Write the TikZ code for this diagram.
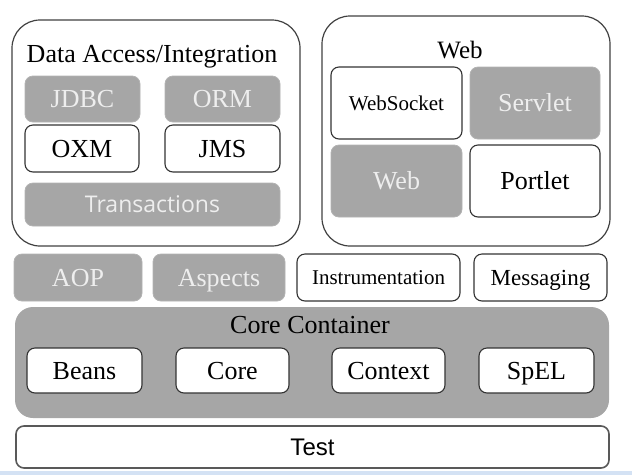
\documentclass[tikz,border=0pt]{standalone}
\usepackage{fontspec}
\setmainfont{Liberation Serif}
\newfontfamily\uifont{Open Sans}
\newfontfamily\arialfont{Liberation Sans}
\definecolor{modgray}{HTML}{A6A6A6}
\definecolor{modtext}{HTML}{EEEEEE}
\definecolor{edgegray}{HTML}{404040}
\definecolor{stripblue}{HTML}{D4E2F4}
\begin{document}
\begin{tikzpicture}[x=1pt, y=-1pt,
    group/.style={draw=edgegray, line width=1.2pt, rounded corners=28pt, minimum width=288pt, inner sep=0pt},
    title/.style={anchor=base, font=\fontsize{26}{28}\selectfont},
    whitebox/.style={draw=black!80, fill=white, line width=1.1pt, rounded corners=8pt, inner sep=0pt,
                     text=black, text height=17pt, text depth=0pt, font=\fontsize{26}{28}\selectfont},
    graybox/.style={draw=black!30, fill=modgray, line width=0.8pt, rounded corners=8pt, inner sep=0pt,
                    text=modtext, text height=17pt, text depth=0pt, font=\fontsize{26}{28}\selectfont},
    small/.style={text height=14pt, font=\fontsize{21}{23}\selectfont}
  ]
    \useasboundingbox (0,0) rectangle (632,475);
    \fill[stripblue] (0,471) rectangle (632,475);                   % Window Edge

    % Draw Data Access/Integration
    \node[group, minimum height=226pt] (dai) at (156,133) {};
    \node[title] (daiTitle) at (152,62) {Data Access/Integration};
    \node[graybox, minimum width=115pt, minimum height=46pt] (jdbc) at (82.5,99) {JDBC};
    \node[graybox, minimum width=115pt, minimum height=46pt] (orm) at (222.5,99) {ORM};
    \node[whitebox, minimum width=114pt, minimum height=47pt] (oxm) at (82,148.5) {OXM};
    \node[whitebox, minimum width=115pt, minimum height=47pt] (jms) at (222.5,148.5) {JMS};
    \node[graybox, minimum width=255pt, minimum height=43pt, text height=16.4pt,
          font=\uifont\fontsize{23}{25}\selectfont] (tx) at (152.5,204.5) {Transactions};

    % Draw Web
    \node[group, minimum height=230pt] (web) at (466,131) {};
    \node[title, font=\fontsize{25}{27}\selectfont] (webTitle) at (460,58) {Web};
    \node[whitebox, small, minimum width=131pt, minimum height=72pt] (socket) at (396.5,103) {WebSocket};
    \node[graybox, minimum width=130pt, minimum height=72pt] (servlet) at (535,103) {Servlet};
    \node[graybox, minimum width=131pt, minimum height=72pt] (webmod) at (396.5,181) {Web};
    \node[whitebox, minimum width=130pt, minimum height=72pt] (portlet) at (535,181) {Portlet};

    % Draw Middle Row
    \node[graybox, minimum width=128pt, minimum height=47pt] (aop) at (78,277.5) {AOP};
    \node[graybox, minimum width=132pt, minimum height=47pt] (aspects) at (219,277.5) {Aspects};
    \node[whitebox, small, minimum width=163pt, minimum height=47pt] (instr) at (378.5,277.5) {Instrumentation};
    \node[whitebox, minimum width=133pt, minimum height=47pt, text height=15pt,
          font=\fontsize{23}{25}\selectfont] (msg) at (540.5,277.5) {Messaging};

    % Draw Core Container
    \node[fill=modgray, rounded corners=18pt, minimum width=594pt, minimum height=111pt] (core) at (312,362.5) {};
    \node[title] (coreTitle) at (310,333) {Core Container};
    \foreach \name/\x/\w in {Beans/84.5/115, Core/232.5/113, Context/388.5/113, SpEL/536.5/115}{
      \node[whitebox, minimum width=\w pt, minimum height=45pt] (\name) at (\x,370.5) {\name};
    }

    % Draw Test
    \node[whitebox, draw=black!65, line width=1.6pt, minimum width=593pt, minimum height=42pt,
          font=\arialfont\fontsize{24}{26}\selectfont] (test) at (312.5,447) {Test};
\end{tikzpicture}
\end{document}
